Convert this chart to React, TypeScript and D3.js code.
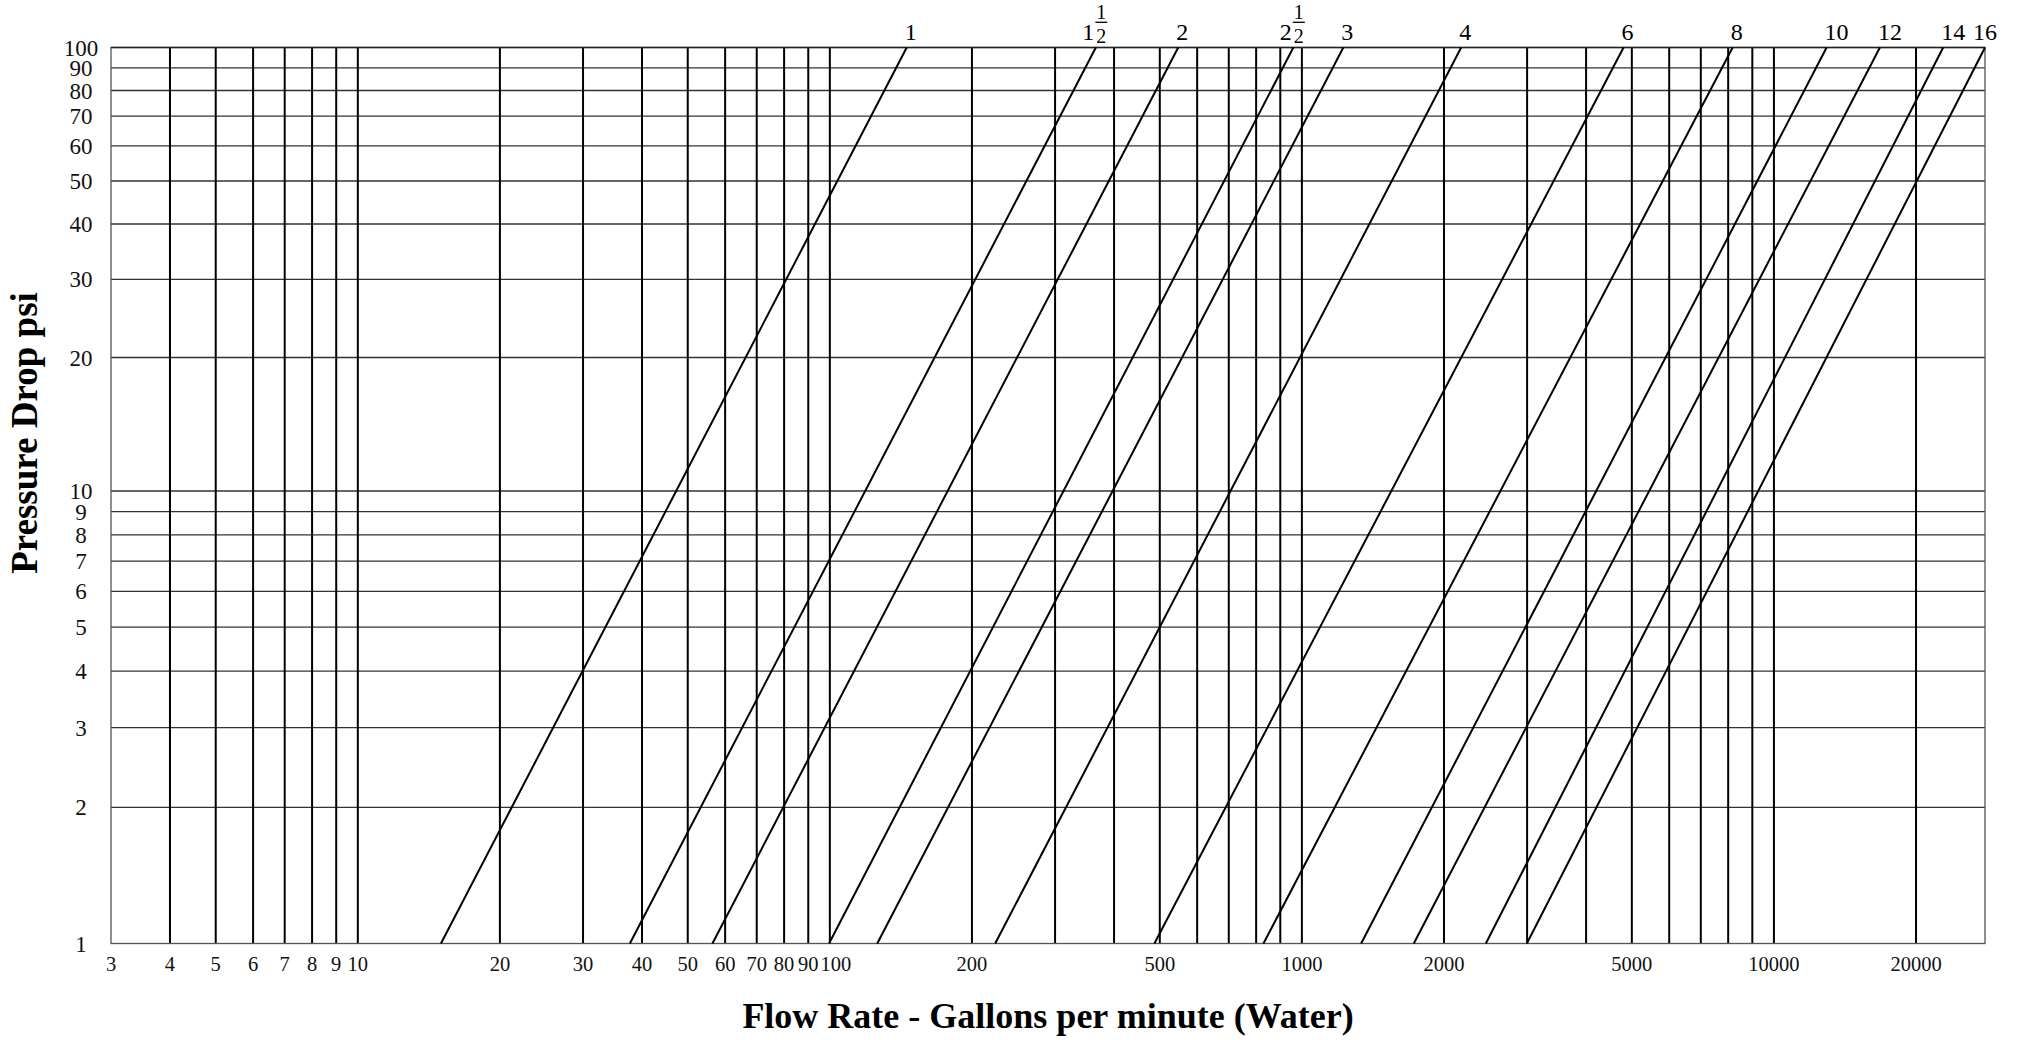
import { useRef, useEffect } from 'react';
import * as d3 from 'd3';

// pipe sizes (inches), one straight line each on the log-log grid
const pipeSizes = ['1', '1½', '2', '2½', '3', '4', '6', '8', '10', '12', '14', '16'];
// flow (gpm) where each line meets 1 psi and 100 psi
const flowAtOnePsi = [15, 37.7, 56.4, 99.6, 126, 224, 487, 829, 1335, 1726, 2453, 2996];
const flowAtHundredPsi = [145.5, 366, 547, 959, 1224, 2175, 4802, 8176, 12930, 16770, 22830, 28000];

const pressureTicks = [1, 2, 3, 4, 5, 6, 7, 8, 9, 10, 20, 30, 40, 50, 60, 70, 80, 90, 100];
const flowGrid = [4, 5, 6, 7, 8, 9, 10, 20, 30, 40, 50, 60, 70, 80, 90, 100, 200, 300, 400, 500, 600, 700, 800, 900,
  1000, 2000, 3000, 4000, 5000, 6000, 7000, 8000, 9000, 10000, 20000];
const flowTicks = [3, 4, 5, 6, 7, 8, 9, 10, 20, 30, 40, 50, 60, 70, 80, 90, 100, 200, 500, 1000, 2000, 5000, 10000, 20000];

const FONT = "'Liberation Serif', 'Times New Roman', serif";

export default function App() {
  const ref = useRef<SVGSVGElement>(null);

  useEffect(() => {
    const svg = d3.select(ref.current);
    svg.selectAll('*').remove();

    const left = 111, right = 1985, top = 47.5, bottom = 943.5;
    const x = d3.scaleLog().domain([3, 28000]).range([left, right]);
    const y = d3.scaleLog().domain([1, 10, 100]).range([bottom, 491, top]);

    const g = svg.append('g');

    // horizontal grid
    g.selectAll('line.h')
      .data(pressureTicks.slice(1, -1))
      .join('line')
      .attr('x1', left).attr('x2', right)
      .attr('y1', d => y(d)).attr('y2', d => y(d))
      .attr('stroke', '#333').attr('stroke-width', 1.3);

    // vertical grid
    g.selectAll('line.v')
      .data(flowGrid)
      .join('line')
      .attr('x1', d => x(d)).attr('x2', d => x(d))
      .attr('y1', top).attr('y2', bottom)
      .attr('stroke', '#000').attr('stroke-width', 2);

    // frame
    g.append('rect')
      .attr('x', left).attr('y', top)
      .attr('width', right - left).attr('height', bottom - top)
      .attr('fill', 'none').attr('stroke', '#555').attr('stroke-width', 1.3);
    g.append('line')
      .attr('x1', left).attr('x2', right).attr('y1', top).attr('y2', top)
      .attr('stroke', '#222').attr('stroke-width', 1.4);

    // pipe lines
    const line = d3.line<[number, number]>().x(d => x(d[0])).y(d => y(d[1]));
    pipeSizes.forEach((size, i) => {
      const pts: [number, number][] = [[flowAtOnePsi[i], 1], [flowAtHundredPsi[i], 100]];
      g.append('path')
        .attr('d', line(pts))
        .attr('fill', 'none').attr('stroke', '#000').attr('stroke-width', 2);

      const tx = x(flowAtHundredPsi[i]);
      if (size.includes('½')) {
        const whole = size.replace('½', '');
        g.append('text').attr('x', tx - 7.5).attr('y', 40)
          .attr('text-anchor', 'middle').attr('font-family', FONT).attr('font-size', 24)
          .text(whole);
        g.append('text').attr('x', tx + 5.5).attr('y', 18.5)
          .attr('text-anchor', 'middle').attr('font-family', FONT).attr('font-size', 20)
          .text('1');
        g.append('line').attr('x1', tx - 0.5).attr('x2', tx + 11.5).attr('y1', 22.3).attr('y2', 22.3)
          .attr('stroke', '#000').attr('stroke-width', 1.3);
        g.append('text').attr('x', tx + 5.5).attr('y', 42.5)
          .attr('text-anchor', 'middle').attr('font-family', FONT).attr('font-size', 20)
          .text('2');
      } else {
        const w = size.length * 12;
        const cx = Math.min(tx + w / 2 - 2, right);
        g.append('text').attr('x', cx).attr('y', 40)
          .attr('text-anchor', 'middle').attr('font-family', FONT).attr('font-size', 24)
          .text(size);
      }
    });

    // y tick labels
    g.selectAll('text.yt')
      .data(pressureTicks)
      .join('text')
      .attr('x', 81).attr('y', d => y(d))
      .attr('dy', '0.35em')
      .attr('text-anchor', 'middle')
      .attr('font-family', FONT).attr('font-size', 23)
      .attr('fill', '#111')
      .text(d => d);

    // x tick labels, nudged right where they would collide
    const fs = 20.5;
    let prevRight = -Infinity;
    flowTicks.forEach(v => {
      const w = String(v).length * fs * 0.5;
      let cx = x(v);
      if (cx - w / 2 < prevRight + 2) cx = prevRight + 2 + w / 2;
      prevRight = cx + w / 2;
      g.append('text').attr('x', cx).attr('y', 971)
        .attr('text-anchor', 'middle')
        .attr('font-family', FONT).attr('font-size', fs)
        .attr('fill', '#111')
        .text(v);
    });

    // axis titles
    g.append('text')
      .attr('x', (left + right) / 2).attr('y', 1028)
      .attr('text-anchor', 'middle')
      .attr('font-family', FONT).attr('font-size', 36).attr('font-weight', 'bold')
      .text('Flow Rate - Gallons per minute (Water)');
    g.append('text')
      .attr('transform', 'translate(37,433) rotate(-90)')
      .attr('text-anchor', 'middle')
      .attr('font-family', FONT).attr('font-size', 37).attr('font-weight', 'bold')
      .text('Pressure Drop psi');
  }, []);

  return (
    <svg ref={ref} width={2023} height={1040}
      style={{ position: 'absolute', left: 0, top: 0, background: '#fff' }} />
  );
}
